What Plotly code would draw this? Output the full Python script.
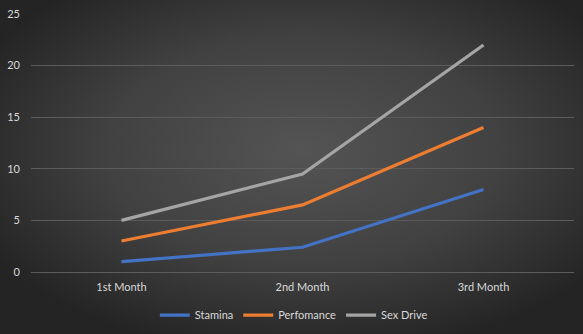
import base64
import plotly.graph_objects as go

categories = ["1st Month", "2nd Month", "3rd Month"]
stamina = [1.0, 2.4, 8.0]
performance = [3.0, 6.5, 14.0]
sex_drive = [5.0, 9.5, 22.0]

series = [
    ("Stamina", stamina, "#4472c4"),
    ("Perfomance", performance, "#ed7d31"),
    ("Sex Drive", sex_drive, "#a5a5a5"),
]

W, H = 583, 334
L, R, T, B = 31, 9, 14, 62
pw, ph = W - L - R, H - T - B

svg = f'''<svg xmlns="http://www.w3.org/2000/svg" width="{W}" height="{H}" viewBox="0 0 {W} {H}" preserveAspectRatio="none">
<defs><radialGradient id="g" cx="52%" cy="45%" r="62%" fx="52%" fy="45%">
<stop offset="0" stop-color="#545454"/><stop offset="0.55" stop-color="#414141"/><stop offset="1" stop-color="#242424"/>
</radialGradient></defs><rect width="{W}" height="{H}" fill="url(#g)"/></svg>'''
src = "data:image/svg+xml;base64," + base64.b64encode(svg.encode()).decode()

fig = go.Figure()
for name, vals, color in series:
    fig.add_trace(go.Scatter(
        x=categories, y=vals, name=name, mode="lines",
        line=dict(color=color, width=3.2),
    ))

font_color = "#d9d9d9"
fig.update_layout(
    width=W, height=H,
    margin=dict(l=L, r=R, t=T, b=B, autoexpand=False),
    paper_bgcolor="#2a2a2a",
    plot_bgcolor="rgba(0,0,0,0)",
    font=dict(family="Lato, 'Open Sans', sans-serif", size=11, color=font_color),
    showlegend=True,
    legend=dict(orientation="h", x=0.484, xanchor="center", y=-0.167, yanchor="middle",
                font=dict(size=11, color=font_color), bgcolor="rgba(0,0,0,0)",
                itemwidth=30, tracegroupgap=0),
    images=[dict(source=src, xref="paper", yref="paper",
                 x=-L / pw, y=1 + T / ph, sizex=W / pw, sizey=H / ph,
                 xanchor="left", yanchor="top", sizing="stretch", layer="below")],
    xaxis=dict(type="category", range=[-0.5, 2.5], showgrid=False, zeroline=False,
               showline=False, ticks="", ticklabelstandoff=7, automargin=False,
               tickfont=dict(size=11, color=font_color)),
    yaxis=dict(range=[0, 25], dtick=5, showgrid=True, gridcolor="#5c5c5c", gridwidth=1,
               zeroline=True, zerolinecolor="#5c5c5c", zerolinewidth=1,
               showline=False, ticks="", ticklabelstandoff=10, automargin=False,
               tickfont=dict(size=11, color=font_color)),
)
fig.write_html("out.html")
